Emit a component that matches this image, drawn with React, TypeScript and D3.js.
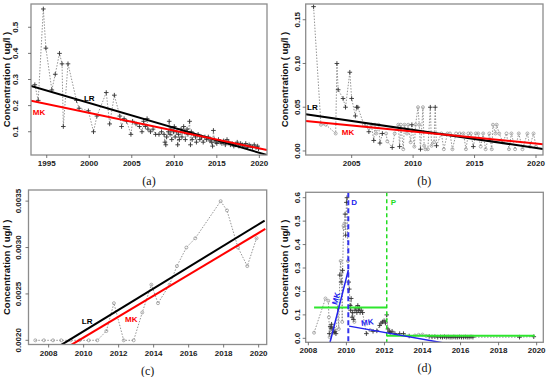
import React from "react";
import * as d3 from "d3";

// ---- panel (a) ----
const aYears = [1993.6, 1994.0, 1994.6, 1994.9, 1995.6, 1996.0, 1996.5, 1996.8, 1996.95, 1997.5, 1998.5, 1998.8, 1999.9, 2000.5, 2000.9, 2002.0, 2002.4, 2002.95, 2003.6, 2003.8, 2004.1, 2004.4, 2004.9, 2005.1, 2005.5, 2005.9, 2006.2, 2006.4, 2006.6, 2006.8, 2006.9, 2007.2, 2007.5, 2007.8, 2008.2, 2008.5, 2008.8, 2008.9, 2009.0, 2009.1, 2009.3, 2009.4, 2009.5, 2009.6, 2009.7, 2009.9, 2010.0, 2010.1, 2010.3, 2010.4, 2010.5, 2010.6, 2010.8, 2010.9, 2011.1, 2011.2, 2011.3, 2011.5, 2011.6, 2011.8, 2011.9, 2012.0, 2012.1, 2012.3, 2012.5, 2012.6, 2012.8, 2013.0, 2013.2, 2013.4, 2013.6, 2013.8, 2014.0, 2014.2, 2014.4, 2014.5, 2014.6, 2014.7, 2014.9, 2015.0, 2015.2, 2015.4, 2015.6, 2015.8, 2016.0, 2016.2, 2016.4, 2016.6, 2016.8, 2017.0, 2017.2, 2017.4, 2017.6, 2017.8, 2018.0, 2018.2, 2018.4, 2018.6, 2018.8, 2019.0, 2019.2, 2019.4, 2019.6, 2019.8, 2019.9];
const aValues = [0.28, 0.22, 0.57, 0.42, 0.26, 0.32, 0.40, 0.36, 0.12, 0.36, 0.22, 0.19, 0.18, 0.10, 0.16, 0.25, 0.13, 0.24, 0.16, 0.12, 0.15, 0.14, 0.09, 0.14, 0.13, 0.12, 0.10, 0.14, 0.12, 0.15, 0.11, 0.10, 0.11, 0.09, 0.09, 0.10, 0.09, 0.06, 0.05, 0.08, 0.10, 0.14, 0.09, 0.11, 0.07, 0.10, 0.12, 0.08, 0.10, 0.05, 0.09, 0.07, 0.11, 0.08, 0.12, 0.10, 0.07, 0.11, 0.09, 0.14, 0.05, 0.10, 0.07, 0.09, 0.08, 0.06, 0.09, 0.07, 0.08, 0.06, 0.08, 0.07, 0.08, 0.065, 0.06, 0.045, 0.105, 0.07, 0.06, 0.055, 0.07, 0.06, 0.055, 0.065, 0.05, 0.07, 0.06, 0.05, 0.055, 0.045, 0.05, 0.06, 0.045, 0.055, 0.05, 0.045, 0.055, 0.04, 0.05, 0.045, 0.04, 0.05, 0.04, 0.045, 0.035];
const aLR = [0.275, 0.011]; // value at left / right edge of panel
const aMK = [0.219, 0.030];

// ---- panel (b) ----
const bYears = [2001.9, 2002.5, 2002.9, 2003.7, 2003.8, 2003.9, 2004.3, 2004.5, 2004.85, 2005.0, 2005.3, 2005.4, 2005.5, 2006.0, 2006.2, 2006.4, 2006.6, 2006.8, 2006.9, 2007.0, 2007.2, 2007.3, 2007.5, 2007.8, 2007.9, 2008.3, 2008.5, 2008.8, 2008.9, 2009.0, 2009.2, 2009.3, 2009.5, 2009.6, 2009.8, 2009.9, 2010.1, 2010.2, 2010.4, 2010.5, 2010.6, 2010.8, 2010.9, 2011.0, 2011.2, 2011.4, 2011.5, 2011.7, 2011.8, 2011.9, 2012.3, 2012.5, 2012.8, 2013.0, 2013.2, 2013.5, 2013.8, 2014.1, 2014.3, 2014.5, 2014.7, 2014.9, 2015.1, 2015.3, 2015.5, 2015.7, 2015.9, 2016.2, 2016.4, 2016.5, 2016.7, 2016.8, 2017.0, 2017.3, 2017.6, 2017.8, 2018.0, 2018.3, 2018.6, 2018.9, 2019.3, 2019.5, 2019.8, 2020.0];
const bValues = [0.165, 0.03, 0.03, 0.02, 0.10, 0.07, 0.06, 0.05, 0.09, 0.06, 0.04, 0.05, 0.05, 0.03, 0.03, 0.022, 0.03, 0.012, 0.03, 0.02, 0.03, 0.009, 0.02, 0.02, 0.011, 0.004, 0.02, 0.03, 0.005, 0.03, 0.002, 0.03, 0.02, 0.03, 0.01, 0.03, 0.005, 0.03, 0.05, 0.03, 0.002, 0.05, 0.006, 0.002, 0.002, 0.05, 0.006, 0.01, 0.05, 0.006, 0.02, 0.002, 0.02, 0.02, 0.002, 0.02, 0.02, 0.02, 0.002, 0.02, 0.02, 0.005, 0.02, 0.02, 0.005, 0.02, 0.002, 0.02, 0.002, 0.03, 0.02, 0.03, 0.02, 0.01, 0.02, 0.002, 0.02, 0.002, 0.02, 0.002, 0.02, 0.005, 0.02, 0.005];
const bShapes = "pooopppppppppoopopoooppoopoopoooooopoooopoooopooppooooooooooopooooooooooooooooooooo";
const bLR = [0.042, 0.0023];
const bMK = [0.0344, 0.0077];

// ---- panel (c) ----
const cYears = [2007.24, 2007.73, 2008.25, 2008.72, 2009.26, 2009.77, 2010.29, 2010.78, 2011.3, 2011.73, 2012.29, 2012.86, 2013.35, 2013.87, 2014.25, 2014.91, 2015.33, 2015.87, 2016.38, 2017.83, 2018.19, 2018.82, 2019.35, 2019.88];
const cValues = [0.002, 0.002, 0.002, 0.002, 0.002, 0.002, 0.002, 0.002, 0.0021, 0.0024, 0.002, 0.002, 0.0023, 0.0026, 0.0024, 0.0026, 0.0028, 0.003, 0.0031, 0.0035, 0.0034, 0.003, 0.0028, 0.0031];
const cLR = [[2008.72, 0.00195], [2020.34, 0.00329]];
const cMK = [[2009.29, 0.00195], [2020.38, 0.0032]];

// ---- panel (d) ----
const dYears = [2008.3, 2008.9, 2009.05, 2009.08, 2009.1, 2009.12, 2009.15, 2009.2, 2009.22, 2009.25, 2009.3, 2009.35, 2009.4, 2009.45, 2009.55, 2009.6, 2009.65, 2009.7, 2009.72, 2009.75, 2009.78, 2009.8, 2009.85, 2009.88, 2009.9, 2009.93, 2009.96, 2010.0, 2010.03, 2010.08, 2010.12, 2010.15, 2010.2, 2010.22, 2010.25, 2010.3, 2010.33, 2010.37, 2010.42, 2010.45, 2010.5, 2010.55, 2010.6, 2010.63, 2010.68, 2010.72, 2010.78, 2010.85, 2011.05, 2011.25, 2011.4, 2011.6, 2011.75, 2011.82, 2011.9, 2011.98, 2012.05, 2012.12, 2012.18, 2012.25, 2012.3, 2012.4, 2012.55, 2012.8, 2013.0, 2013.3, 2013.6, 2013.8, 2014.0, 2014.2, 2014.35, 2014.5, 2014.65, 2014.8, 2014.95, 2015.05, 2015.15, 2015.25, 2015.35, 2015.45, 2015.55, 2015.65, 2015.75, 2015.85, 2015.95, 2016.05, 2016.15, 2016.25, 2016.35, 2016.45, 2016.55, 2016.65, 2019.1, 2019.85];
const dValues = [0.024, 0.17, 0.16, 0.09, 0.02, 0.005, 0.05, 0.04, 0.06, 0.03, 0.045, 0.025, 0.03, 0.02, 0.13, 0.04, 0.27, 0.33, 0.24, 0.28, 0.07, 0.29, 0.48, 0.47, 0.49, 0.53, 0.44, 0.58, 0.6, 0.33, 0.24, 0.21, 0.14, 0.12, 0.17, 0.09, 0.11, 0.08, 0.07, 0.12, 0.13, 0.11, 0.14, 0.12, 0.13, 0.11, 0.12, 0.11, 0.02, 0.035, 0.03, 0.032, 0.055, 0.065, 0.07, 0.075, 0.065, 0.1, 0.04, 0.03, 0.025, 0.03, 0.02, 0.02, 0.02, 0.01, 0.012, 0.015, 0.016, 0.01, 0.008, 0.006, 0.007, 0.005, 0.006, 0.005, 0.007, 0.005, 0.006, 0.005, 0.005, 0.006, 0.005, 0.005, 0.006, 0.005, 0.005, 0.006, 0.005, 0.005, 0.006, 0.005, 0.005, 0.007];
const dShapes = "oooopopppopppppopopoopoooppppoppppppppoppppppppppoppppppppppppppppooooppppppppppppppppppppppppp";
const dBreakD = 2010.1;
const dBreakP = 2012.12;
const dMK1 = [[2009.14, -0.017], [2010.1, 0.291]];
const dMK2 = [[2010.14, 0.052], [2015.2, -0.021]];
const dLevels = [[2008.3, 2012.12, 0.131], [2012.12, 2019.9, 0.011]];

const FONT = "'Liberation Sans', Arial, sans-serif";
const GRAY = "#8c8c8c";

type Box = { l: number; t: number; r: number; b: number };

function Marker({ cx, cy, s }: { cx: number; cy: number; s: string }) {
  if (s === "p")
    return <path d={`M${cx - 2.3},${cy}h4.6M${cx},${cy - 2.3}v4.6`} stroke="#333" strokeWidth={0.9} />;
  return <circle cx={cx} cy={cy} r={1.5} fill="none" stroke="#999" strokeWidth={0.8} />;
}

function Panel(props: {
  id: string;
  box: Box;
  xDomain: number[];
  yDomain: number[];
  xTicks: number[];
  yTicks: number[];
  yFmt: (v: number) => string;
  caption: string;
  labelGap: number;
  titleGap: number;
  children: (x: d3.ScaleLinear<number, number>, y: d3.ScaleLinear<number, number>) => React.ReactNode;
}) {
  const { box, xDomain, yDomain } = props;
  const x = d3.scaleLinear().domain(xDomain).range([box.l, box.r]);
  const y = d3.scaleLinear().domain(yDomain).range([box.b, box.t]);
  const cx = (box.l + box.r) / 2;
  const cy = (box.t + box.b) / 2;
  const tx = box.l - props.titleGap;
  const lx = box.l - props.labelGap;
  return (
    <g>
      <clipPath id={props.id}>
        <rect x={box.l} y={box.t} width={box.r - box.l} height={box.b - box.t} />
      </clipPath>
      <g clipPath={`url(#${props.id})`}>{props.children(x, y)}</g>
      <rect x={box.l} y={box.t} width={box.r - box.l} height={box.b - box.t} fill="none" stroke={GRAY} strokeWidth={1.3} />
      {props.xTicks.map((t) => (
        <g key={"x" + t}>
          <line x1={x(t)} x2={x(t)} y1={box.b} y2={box.b + 3} stroke="#555" strokeWidth={0.8} />
          <text x={x(t)} y={box.b + 11} textAnchor="middle" fontFamily={FONT} fontWeight="bold" fontSize={8} fill="#222">
            {t}
          </text>
        </g>
      ))}
      {props.yTicks.map((t) => (
        <g key={"y" + t}>
          <line x1={box.l - 3} x2={box.l} y1={y(t)} y2={y(t)} stroke="#555" strokeWidth={0.8} />
          <text transform={`translate(${lx},${y(t)}) rotate(-90)`} textAnchor="middle" dy="0.35em" fontFamily={FONT} fontWeight="bold" fontSize={8} fill="#222">
            {props.yFmt(t)}
          </text>
        </g>
      ))}
      <text transform={`translate(${tx},${cy}) rotate(-90)`} textAnchor="middle" dy="0.35em" fontFamily={FONT} fontWeight="bold" fontSize={9.5} fill="#111">
        Concentration ( ug/l )
      </text>
      <text x={cx} y={box.b + 30} textAnchor="middle" fontFamily="'Liberation Serif', 'Times New Roman', serif" fontSize={12} fill="#111">
        {props.caption}
      </text>
    </g>
  );
}

function series(x: any, y: any, xs: number[], vs: number[]) {
  const line = d3.line<number>().x((d, i) => x(xs[i])).y((d) => y(d));
  return <path d={line(vs) || ""} fill="none" stroke="#888" strokeWidth={0.9} strokeDasharray="1.5,1.5" />;
}

function label(x: number, y: number, t: string, c: string, rot = 0) {
  return (
    <text transform={`translate(${x},${y}) rotate(${rot})`} textAnchor="middle" dy="0.35em" fontFamily={FONT} fontWeight="bold" fontSize={8} fill={c}>
      {t}
    </text>
  );
}

export default function App() {
  const boxA = { l: 31, t: 4, r: 267, b: 155 };
  const boxB = { l: 305.7, t: 4, r: 543, b: 155 };
  const boxC = { l: 28.5, t: 190, r: 266.7, b: 344.5 };
  const boxD = { l: 305.7, t: 192.3, r: 543.3, b: 342.3 };
  return (
    <svg width={550} height={377} style={{ position: "absolute", left: 0, top: 0, background: "#fff" }}>
      <Panel id="ca" box={boxA} xDomain={[1993.15, 2020.9]} yDomain={[0.011, 0.589]} xTicks={[1995, 2000, 2005, 2010, 2015, 2020]} yTicks={[0.1, 0.2, 0.3, 0.4, 0.5]} yFmt={(v) => String(v)} caption="(a)" labelGap={16} titleGap={24}>
        {(x, y) => (
          <g>
            {series(x, y, aYears, aValues)}
            {aYears.map((t, i) => <Marker key={i} cx={x(t)} cy={y(aValues[i])} s="p" />)}
            <line x1={x(1993.15)} x2={x(2020.9)} y1={y(aLR[0])} y2={y(aLR[1])} stroke="#000" strokeWidth={2} />
            <line x1={x(1993.15)} x2={x(2020.9)} y1={y(aMK[0])} y2={y(aMK[1])} stroke="#f00" strokeWidth={2} />
            {label(x(2000), y(0.229), "LR", "#000")}
            {label(x(1994.1), y(0.175), "MK", "#f00")}
          </g>
        )}
      </Panel>
      <Panel id="cb" box={boxB} xDomain={[2001.26, 2020.57]} yDomain={[-0.0046, 0.168]} xTicks={[2005, 2010, 2015, 2020]} yTicks={[0, 0.05, 0.1, 0.15]} yFmt={(v) => v.toFixed(2)} caption="(b)" labelGap={9} titleGap={21}>
        {(x, y) => (
          <g>
            {series(x, y, bYears, bValues)}
            {bYears.map((t, i) => <Marker key={i} cx={x(t)} cy={y(bValues[i])} s={bShapes[i]} />)}
            <line x1={x(2001.26)} x2={x(2020.57)} y1={y(bLR[0])} y2={y(bLR[1])} stroke="#000" strokeWidth={2} />
            <line x1={x(2001.26)} x2={x(2020.57)} y1={y(bMK[0])} y2={y(bMK[1])} stroke="#f00" strokeWidth={2} />
            {label(x(2001.8), y(0.05), "LR", "#000")}
            {label(x(2004.7), y(0.022), "MK", "#f00")}
          </g>
        )}
      </Panel>
      <Panel id="cc" box={boxC} xDomain={[2006.85, 2020.46]} yDomain={[0.001955, 0.00362]} xTicks={[2008, 2010, 2012, 2014, 2016, 2018, 2020]} yTicks={[0.002, 0.0025, 0.003, 0.0035]} yFmt={(v) => v.toFixed(4)} caption="(c)" labelGap={10} titleGap={22}>
        {(x, y) => (
          <g>
            {series(x, y, cYears, cValues)}
            {cYears.map((t, i) => <Marker key={i} cx={x(t)} cy={y(cValues[i])} s="o" />)}
            <line x1={x(cLR[0][0])} x2={x(cLR[1][0])} y1={y(cLR[0][1])} y2={y(cLR[1][1])} stroke="#000" strokeWidth={2} />
            <line x1={x(cMK[0][0])} x2={x(cMK[1][0])} y1={y(cMK[0][1])} y2={y(cMK[1][1])} stroke="#f00" strokeWidth={2} />
            {label(x(2010.2), y(0.002205), "LR", "#000")}
            {label(x(2012.72), y(0.00223), "MK", "#f00")}
          </g>
        )}
      </Panel>
      <Panel id="cd" box={boxD} xDomain={[2007.86, 2020.35]} yDomain={[-0.017, 0.623]} xTicks={[2008, 2010, 2012, 2014, 2016, 2018, 2020]} yTicks={[0, 0.1, 0.2, 0.3, 0.4, 0.5, 0.6]} yFmt={(v) => v.toFixed(1)} caption="(d)" labelGap={9} titleGap={21}>
        {(x, y) => (
          <g>
            {series(x, y, dYears, dValues)}
            {dYears.map((t, i) => <Marker key={i} cx={x(t)} cy={y(dValues[i])} s={dShapes[i]} />)}
            {dLevels.map((l, i) => (
              <line key={i} x1={x(l[0])} x2={x(l[1])} y1={y(l[2])} y2={y(l[2])} stroke="#2ee62e" strokeWidth={2} />
            ))}
            <line x1={x(dBreakP)} x2={x(dBreakP)} y1={y(0.623)} y2={y(-0.017)} stroke="#22dd22" strokeWidth={1.5} strokeDasharray="4,3" />
            <line x1={x(dBreakD)} x2={x(dBreakD)} y1={y(0.623)} y2={y(-0.017)} stroke="#3333ee" strokeWidth={2} strokeDasharray="5,3" />
            <line x1={x(dMK1[0][0])} x2={x(dMK1[1][0])} y1={y(dMK1[0][1])} y2={y(dMK1[1][1])} stroke="#2222ee" strokeWidth={1.5} />
            <line x1={x(dMK2[0][0])} x2={x(dMK2[1][0])} y1={y(dMK2[0][1])} y2={y(dMK2[1][1])} stroke="#2222ee" strokeWidth={1.5} />
            {label(x(2010.4), y(0.58), "D", "#2222ee")}
            {label(x(2012.47), y(0.58), "P", "#22dd22")}
            {label(x(2009.45), y(0.17), "MK", "#2222ee", -74)}
            {label(x(2011.1), y(0.068), "MK", "#2222ee", -8)}
          </g>
        )}
      </Panel>
    </svg>
  );
}
